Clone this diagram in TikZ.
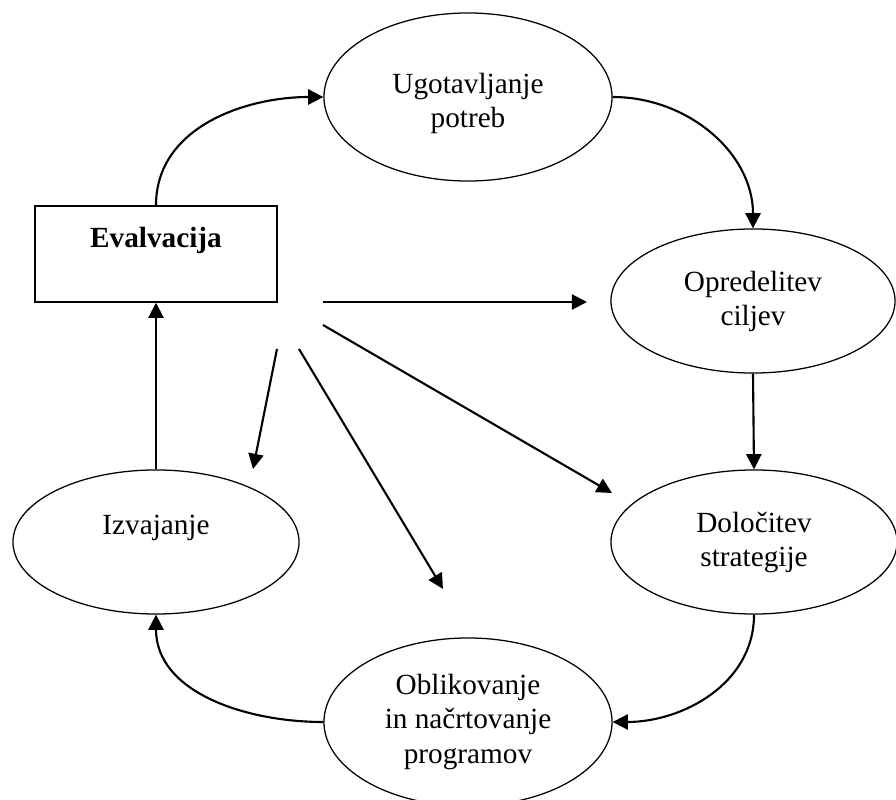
\documentclass[tikz,border=0pt]{standalone}
\usepackage{fontspec}
\setmainfont{Liberation Serif}
\usetikzlibrary{arrows.meta,shapes.geometric}
\begin{document}
\begin{tikzpicture}[x=0.025cm,y=-0.025cm,
  every node/.style={font=\fontsize{20.8}{24.2}\selectfont},
  faza/.style={draw,ellipse,line width=0.9pt,align=center,inner sep=0pt,
    minimum width=7.2cm,minimum height=3.6cm},
  tok/.style={line width=1.5pt,-{Triangle[length=0.38cm,width=0.38cm]}}]
  \useasboundingbox (0,0) rectangle (896,800);

  % faze kroga
  \node[faza,minimum height=4.2cm] (ugo) at (468,97) {\mbox{}\\Ugotavljanje\\potreb};
  \node[faza,minimum width=7.1cm] (opr) at (753,301) {Opredelitev\\ciljev};
  \node[faza,minimum width=7.15cm] (dol) at (754,542) {Določitev\\strategije};
  \node[faza,minimum height=4.2cm] (obl) at (468,722) {Oblikovanje\\in načrtovanje\\programov};
  \node[faza,minimum width=7.15cm] (izv) at (156,542) {Izvajanje\\\mbox{}};
  \node[draw,line width=1pt,inner sep=0pt,align=center,minimum width=6.05cm,minimum height=2.4cm,
    font=\fontsize{20.8}{24.2}\selectfont\bfseries] (eval) at (156,254) {Evalvacija\\\mbox{}};

  % krog
  \draw[tok] (eval.north) to[out=90,in=180] (ugo.west);
  \draw[tok] (ugo.east) to[out=0,in=90] (opr.north);
  \draw[tok] (opr.south) -- (dol.north);
  \draw[tok] (dol.south) to[out=-90,in=0] (obl.east);
  \draw[tok] (obl.west) to[out=180,in=-90] (izv.south);
  \draw[tok] (izv.north) -- (eval.south);

  % povratne puscice evalvacije
  \coordinate (s1) at (323,302);
  \coordinate (e1) at (587,302);
  \coordinate (s2) at (323,325);
  \coordinate (e2) at (612,493);
  \coordinate (s3) at (299,349);
  \coordinate (e3) at (443,589);
  \coordinate (s4) at (277,349);
  \coordinate (e4) at (253,469);
  \draw[tok] (s1) -- (e1);
  \draw[tok] (s2) -- (e2);
  \draw[tok] (s3) -- (e3);
  \draw[tok] (s4) -- (e4);
\end{tikzpicture}
\end{document}
